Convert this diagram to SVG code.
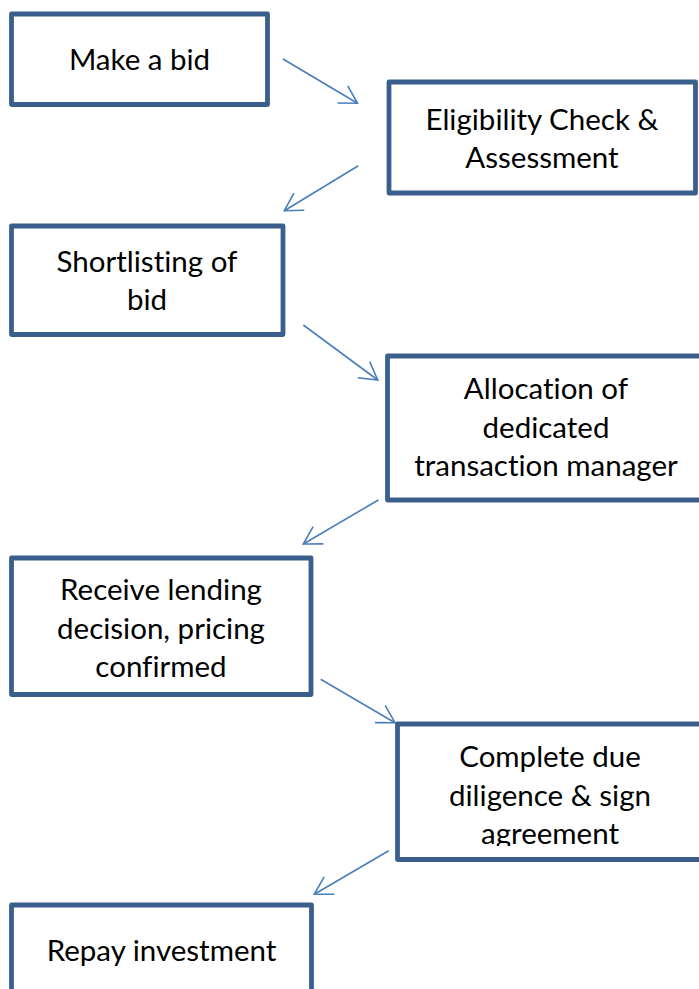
<svg xmlns="http://www.w3.org/2000/svg" width="699" height="989" viewBox="0 0 699 989">
  <style>
    .box { fill: #ffffff; stroke: #3b5f8d; stroke-width: 4.8; stroke-linejoin: round; }
    .lbl { font-family: Lato, "Liberation Sans", sans-serif; font-size: 29.5px; fill: #000000; text-anchor: middle; font-variant-ligatures: none; font-feature-settings: "liga" 0, "clig" 0; }
    .conn { fill: none; stroke: #4a7ebb; stroke-width: 1.6; marker-end: url(#arrow); }
  </style>
  <defs>
    <marker id="arrow" markerUnits="userSpaceOnUse" viewBox="-20 -12 22 24" refX="0" refY="0" markerWidth="22" markerHeight="24" orient="auto" overflow="visible">
      <path d="M -17.3,-10 L 0,0 L -17.3,10" fill="none" stroke="#4a7ebb" stroke-width="1.6" stroke-linejoin="miter"/>
    </marker>
    <clipPath id="clip6">
      <rect x="400" y="727" width="310" height="119"/>
    </clipPath>
  </defs>
  <rect width="699" height="989" fill="#ffffff"/>

  <g id="connectors">
    <line class="conn" x1="283" y1="59" x2="357.5" y2="103.3"/>
    <line class="conn" x1="358.3" y1="165.7" x2="284.3" y2="210.7"/>
    <line class="conn" x1="303.3" y1="325" x2="377.7" y2="380"/>
    <line class="conn" x1="378.3" y1="500" x2="303.3" y2="544"/>
    <line class="conn" x1="320.7" y1="679.3" x2="395" y2="722.7"/>
    <line class="conn" x1="388.7" y1="850.7" x2="314.3" y2="894.3"/>
  </g>

  <g id="node1">
    <rect class="box" x="11.5" y="14" width="256" height="90.5"/>
    <text class="lbl" x="139.5" y="70">Make a bid</text>
  </g>
  <g id="node2">
    <rect class="box" x="389" y="82" width="306.5" height="111"/>
    <text class="lbl" x="542" y="130">Eligibility Check &amp;</text>
    <text class="lbl" x="542" y="168">Assessment</text>
  </g>
  <g id="node3">
    <rect class="box" x="11.5" y="226" width="271.5" height="108.5"/>
    <text class="lbl" x="147" y="272">Shortlisting of</text>
    <text class="lbl" x="147" y="310">bid</text>
  </g>
  <g id="node4">
    <rect class="box" x="387.5" y="356" width="317" height="144"/>
    <text class="lbl" x="546" y="399">Allocation of</text>
    <text class="lbl" x="546" y="438">dedicated</text>
    <text class="lbl" x="546" y="476">transaction manager</text>
  </g>
  <g id="node5">
    <rect class="box" x="11.5" y="558" width="299.5" height="136.5"/>
    <text class="lbl" x="161" y="600">Receive lending</text>
    <text class="lbl" x="161" y="639">decision, pricing</text>
    <text class="lbl" x="161" y="677">confirmed</text>
  </g>
  <g id="node6">
    <rect class="box" x="397.5" y="724" width="306" height="135.5"/>
    <g clip-path="url(#clip6)">
      <text class="lbl" x="550" y="767">Complete due</text>
      <text class="lbl" x="550" y="806">diligence &amp; sign</text>
      <text class="lbl" x="550" y="844">agreement</text>
    </g>
  </g>
  <g id="node7">
    <rect class="box" x="11.5" y="905" width="300" height="110"/>
    <text class="lbl" x="161.5" y="961">Repay investment</text>
  </g>
</svg>
